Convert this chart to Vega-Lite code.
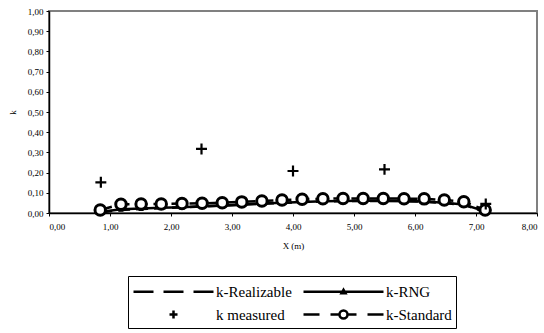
{
  "$schema": "https://vega.github.io/schema/vega-lite/v6.json",
  "width": 488,
  "height": 202,
  "autosize": {"type": "none"},
  "padding": {"left": 49, "top": 11, "right": 7, "bottom": 120},
  "background": "white",
  "config": {
    "view": {"stroke": "#808080", "strokeWidth": 2},
    "font": "Liberation Serif",
    "axis": {
      "labelFont": "Liberation Serif",
      "titleFont": "Liberation Serif",
      "labelFontSize": 9,
      "titleFontSize": 9,
      "titleFontWeight": "normal",
      "labelColor": "black",
      "titleColor": "black",
      "domainColor": "black",
      "domainWidth": 1.5,
      "tickColor": "black",
      "tickSize": 3,
      "grid": false
    },
    "legend": {
      "labelFont": "Liberation Serif",
      "labelFontSize": 15,
      "labelColor": "black"
    }
  },
  "data": {
    "values": [
      {"series": "k-Realizable", "x": 0.84, "k": 0.004},
      {"series": "k-Realizable", "x": 1.18, "k": 0.015},
      {"series": "k-Realizable", "x": 1.51, "k": 0.020},
      {"series": "k-Realizable", "x": 1.84, "k": 0.024},
      {"series": "k-Realizable", "x": 2.18, "k": 0.028},
      {"series": "k-Realizable", "x": 2.51, "k": 0.032},
      {"series": "k-Realizable", "x": 2.84, "k": 0.036},
      {"series": "k-Realizable", "x": 3.16, "k": 0.041},
      {"series": "k-Realizable", "x": 3.49, "k": 0.046},
      {"series": "k-Realizable", "x": 3.82, "k": 0.050},
      {"series": "k-Realizable", "x": 4.15, "k": 0.054},
      {"series": "k-Realizable", "x": 4.49, "k": 0.057},
      {"series": "k-Realizable", "x": 4.82, "k": 0.059},
      {"series": "k-Realizable", "x": 5.15, "k": 0.060},
      {"series": "k-Realizable", "x": 5.48, "k": 0.060},
      {"series": "k-Realizable", "x": 5.82, "k": 0.059},
      {"series": "k-Realizable", "x": 6.15, "k": 0.056},
      {"series": "k-Realizable", "x": 6.48, "k": 0.050},
      {"series": "k-Realizable", "x": 6.80, "k": 0.040},
      {"series": "k-Realizable", "x": 7.15, "k": 0.006},
      {"series": "k-RNG", "x": 0.84, "k": 0.005},
      {"series": "k-RNG", "x": 1.18, "k": 0.018},
      {"series": "k-RNG", "x": 1.51, "k": 0.022},
      {"series": "k-RNG", "x": 1.84, "k": 0.026},
      {"series": "k-RNG", "x": 2.18, "k": 0.029},
      {"series": "k-RNG", "x": 2.51, "k": 0.033},
      {"series": "k-RNG", "x": 2.84, "k": 0.037},
      {"series": "k-RNG", "x": 3.16, "k": 0.042},
      {"series": "k-RNG", "x": 3.49, "k": 0.047},
      {"series": "k-RNG", "x": 3.82, "k": 0.051},
      {"series": "k-RNG", "x": 4.15, "k": 0.055},
      {"series": "k-RNG", "x": 4.49, "k": 0.058},
      {"series": "k-RNG", "x": 4.82, "k": 0.060},
      {"series": "k-RNG", "x": 5.15, "k": 0.061},
      {"series": "k-RNG", "x": 5.48, "k": 0.061},
      {"series": "k-RNG", "x": 5.82, "k": 0.060},
      {"series": "k-RNG", "x": 6.15, "k": 0.057},
      {"series": "k-RNG", "x": 6.48, "k": 0.051},
      {"series": "k-RNG", "x": 6.80, "k": 0.042},
      {"series": "k-RNG", "x": 7.15, "k": 0.008},
      {"series": "k-Standard", "x": 0.84, "k": 0.015},
      {"series": "k-Standard", "x": 1.18, "k": 0.043},
      {"series": "k-Standard", "x": 1.51, "k": 0.045},
      {"series": "k-Standard", "x": 1.84, "k": 0.045},
      {"series": "k-Standard", "x": 2.18, "k": 0.047},
      {"series": "k-Standard", "x": 2.51, "k": 0.048},
      {"series": "k-Standard", "x": 2.84, "k": 0.051},
      {"series": "k-Standard", "x": 3.16, "k": 0.055},
      {"series": "k-Standard", "x": 3.49, "k": 0.059},
      {"series": "k-Standard", "x": 3.82, "k": 0.064},
      {"series": "k-Standard", "x": 4.15, "k": 0.068},
      {"series": "k-Standard", "x": 4.49, "k": 0.071},
      {"series": "k-Standard", "x": 4.82, "k": 0.072},
      {"series": "k-Standard", "x": 5.15, "k": 0.072},
      {"series": "k-Standard", "x": 5.48, "k": 0.072},
      {"series": "k-Standard", "x": 5.82, "k": 0.071},
      {"series": "k-Standard", "x": 6.15, "k": 0.070},
      {"series": "k-Standard", "x": 6.48, "k": 0.064},
      {"series": "k-Standard", "x": 6.80, "k": 0.056},
      {"series": "k-Standard", "x": 7.15, "k": 0.015},
      {"series": "k measured", "x": 0.85, "k": 0.152},
      {"series": "k measured", "x": 2.50, "k": 0.317},
      {"series": "k measured", "x": 4.00, "k": 0.208},
      {"series": "k measured", "x": 5.50, "k": 0.216},
      {"series": "k measured", "x": 7.16, "k": 0.045}
    ]
  },
  "encoding": {
    "x": {
      "field": "x", "type": "quantitative",
      "scale": {"domain": [0, 8], "nice": false},
      "axis": {"values": [0,1,2,3,4,5,6,7,8], "title": "X (m)", "labelExpr": "replace(format(datum.value, '.2f'), '.', ',')", "labelPadding": 6, "titlePadding": 10}
    },
    "y": {
      "field": "k", "type": "quantitative",
      "scale": {"domain": [0, 1], "nice": false},
      "axis": {"values": [0,0.1,0.2,0.3,0.4,0.5,0.6,0.7,0.8,0.9,1], "title": "k", "labelExpr": "replace(format(datum.value, '.2f'), '.', ',')", "labelPadding": 3, "titlePadding": 10}
    }
  },
  "layer": [
    {
      "transform": [{"filter": "datum.series === 'k-Realizable'"}],
      "mark": {"type": "line", "color": "black", "strokeWidth": 2.5, "strokeDash": [12, 6]}
    },
    {
      "transform": [{"filter": "datum.series === 'k-RNG'"}],
      "mark": {"type": "line", "color": "black", "strokeWidth": 2.5}
    },
    {
      "transform": [{"filter": "datum.series === 'k-RNG'"}],
      "mark": {"type": "point", "shape": "triangle-up", "filled": true, "color": "black", "size": 30, "opacity": 1}
    },
    {
      "transform": [{"filter": "datum.series === 'k-Standard'"}],
      "mark": {"type": "line", "color": "black", "strokeWidth": 2.5, "strokeDash": [12, 6]}
    },
    {
      "transform": [{"filter": "datum.series === 'k-Standard'"}],
      "mark": {"type": "point", "shape": "circle", "fill": "white", "stroke": "black", "strokeWidth": 3, "size": 110, "opacity": 1}
    },
    {
      "transform": [{"filter": "datum.series === 'k measured'"}],
      "mark": {"type": "point", "shape": "M-1,0H1M0,-1V1", "stroke": "black", "strokeWidth": 2.2, "size": 120, "opacity": 1}
    },
    {
      "transform": [{"filter": "false"}],
      "mark": {"type": "point", "filled": false, "color": "black", "strokeWidth": 2.5, "opacity": 1},
      "encoding": {
        "shape": {
          "field": "series", "type": "nominal",
          "scale": {
            "domain": ["k-Realizable", "k measured", "k-RNG", "k-Standard"],
            "range": [
              "M-1,0H1M2,0H4M5,0H7",
              "M2.6,0H3.4M3,-0.4V0.4",
              "M-1,0H7M2.8,0.15L3,-0.2L3.2,0.15Z",
              "M-1,0H0.6M1.7,0H2.6M3.4,0H4.3M5.4,0H7M2.6,0A0.4,0.4,0,1,0,3.4,0A0.4,0.4,0,1,0,2.6,0Z"
            ]
          },
          "legend": {"title": null, "orient": "none", "legendX": 79, "legendY": 265, "columns": 2, "strokeColor": "black", "padding": 4, "labelOffset": 61, "columnPadding": 6, "rowPadding": 3, "symbolSize": 400, "symbolStrokeWidth": 2.5, "symbolStrokeColor": "black", "symbolFillColor": "white"}
        }
      }
    }
  ]
}
